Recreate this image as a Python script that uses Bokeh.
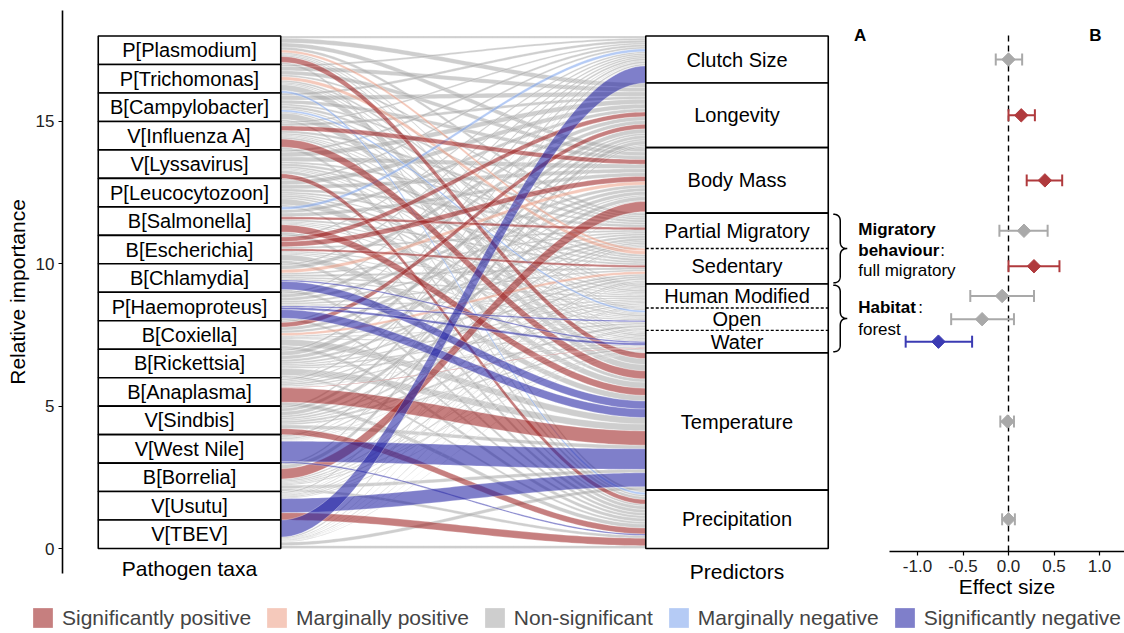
import numpy as np
from bokeh.plotting import figure
from bokeh.models import (ColumnDataSource, Range1d, LinearAxis, FixedTicker,
                          PrintfTickFormatter, Legend, LegendItem)
from bokeh.embed import file_html
from bokeh.resources import INLINE
from bokeh.core.properties import value

FONT = "Liberation Sans"

# ---------------- data ----------------
taxa = ["P[Plasmodium]", "P[Trichomonas]", "B[Campylobacter]", "V[Influenza A]",
        "V[Lyssavirus]", "P[Leucocytozoon]", "B[Salmonella]", "B[Escherichia]",
        "B[Chlamydia]", "P[Haemoproteus]", "B[Coxiella]", "B[Rickettsia]",
        "B[Anaplasma]", "V[Sindbis]", "V[West Nile]", "B[Borrelia]", "V[Usutu]", "V[TBEV]"]
predictors = ["Clutch Size", "Longevity", "Body Mass", "Partial Migratory", "Sedentary",
              "Human Modified", "Open", "Water", "Temperature", "Precipitation"]
predictor_group = ["clutch", "longevity", "bodymass", "migratory", "migratory",
                   "habitat", "habitat", "habitat", "temperature", "precipitation"]
axis_names = ["Pathogen taxa", "Predictors"]
importance_ticks = [0, 5, 10, 15]

# relative importance of each predictor for each pathogen (taxa order)
imp_clutch = [.08, .07, .09, .06, .08, .07, .10, .06, .06, .06, .06, .07, .03, .07, .02, .06, .01, .60]
imp_longevity = [.16, .15, .16, .10, .17, .16, .12, .16, .14, .13, .16, .16, .07, .12, .07, .14, .05, .05]
imp_bodymass = [.15, .14, .13, .16, .16, .14, .13, .18, .12, .11, .12, .13, .05, .14, .03, .36, .02, .03]
imp_partial = [.10, .07, .07, .09, .07, .10, .09, .07, .06, .07, .09, .09, .05, .07, .05, .05, .03, .02]
imp_sedentary = [.09, .12, .09, .06, .09, .07, .07, .08, .08, .06, .09, .07, .07, .07, .02, .05, .04, .03]
imp_human = [.05, .07, .05, .04, .07, .05, .04, .05, .06, .05, .05, .05, .05, .05, .02, .04, .03, .02]
imp_open = [.04, .05, .07, .04, .04, .07, .04, .04, .05, .05, .04, .06, .02, .08, .01, .04, .04, .01]
imp_water = [.05, .04, .05, .07, .04, .06, .04, .04, .05, .08, .04, .05, .02, .06, .01, .04, .03, .02]
imp_temperature = [.20, .21, .22, .28, .12, .21, .25, .20, .28, .30, .23, .24, .50, .13, .72, .12, .49, .12]
imp_precipitation = [.08, .08, .07, .10, .16, .07, .12, .12, .10, .09, .12, .08, .14, .21, .05, .10, .26, .10]

# significance: 2 sig. positive, 1 marg. positive, 0 n.s., -1 marg. negative, -2 sig. negative
sig_clutch = [0, 0, 0, 0, 0, 0, -1, 0, 0, 0, 0, 0, 0, 0, 0, 0, 0, -2]
sig_longevity = [0, 0, 0, 0, 0, 0, 0, 2, 0, 0, 2, 0, 0, 0, 0, 0, 0, 0]
sig_bodymass = [0, 0, 0, 2, 0, 0, 0, 2, 1, 0, 0, 0, 0, 0, 0, 2, 0, 0]
sig_partial = [0, 0, 0, 0, 0, 0, 2, 0, 0, 0, 0, 0, 0, 0, 0, 0, 0, 0]
sig_sedentary = [1, 1, 0, 0, 0, 0, 0, 2, 0, 0, 1, 0, 0, 0, 0, 0, 0, 0]
sig_human = [0, 0, 0, 0, 0, 0, 0, 0, 0, 0, 0, 0, 0, 0, 0, 0, 0, 0]
sig_open = [0, 0, -1, 0, 0, 0, 0, 0, 0, -2, 0, 0, 0, 0, 0, 0, 0, 0]
sig_water = [0, 0, 0, 0, 0, 0, 0, 0, -2, -2, 0, 0, 2, 0, 0, 0, 0, 0]
sig_temperature = [2, 0, 0, 2, 0, 0, 2, 0, -2, -2, 0, 0, 2, 0, -2, 0, -2, 0]
sig_precipitation = [0, -1, 0, 0, 2, 0, 0, 0, 0, 0, 0, 0, 0, 2, -2, 0, 2, 0]

sig_levels = [2, 1, 0, -1, -2]
sig_labels = ["Significantly positive", "Marginally positive", "Non-significant",
              "Marginally negative", "Significantly negative"]
sig_colors = ["#9d2323", "#eda289", "#aaaaaa", "#80a5ee", "#2323a3"]

# panel B: effect sizes per predictor (same order as predictors)
effect = [0.00, 0.14, 0.40, 0.17, 0.28, -0.07, -0.29, -0.77, -0.01, 0.00]
effect_lo = [-0.14, 0.00, 0.20, -0.10, 0.00, -0.42, -0.63, -1.13, -0.09, -0.07]
effect_hi = [0.15, 0.29, 0.59, 0.43, 0.56, 0.28, 0.06, -0.40, 0.06, 0.07]
effect_sig = ["ns", "pos", "pos", "ns", "pos", "ns", "ns", "neg", "ns", "ns"]
effect_ticks = [-1.0, -0.5, 0.0, 0.5, 1.0]
effect_colors = {"pos": "#b03a3d", "neg": "#3b3bb3", "ns": "#a9a9a9"}

importance = [imp_clutch, imp_longevity, imp_bodymass, imp_partial, imp_sedentary,
              imp_human, imp_open, imp_water, imp_temperature, imp_precipitation]
significance = [sig_clutch, sig_longevity, sig_bodymass, sig_partial, sig_sedentary,
                sig_human, sig_open, sig_water, sig_temperature, sig_precipitation]

# ---------------- layout constants (frame = whole canvas) ----------------
FIG_W, FIG_H = 1124, 633
PX_X = 547.5          # pixels per alluvial axis unit
PX_Y = 28.47          # pixels per importance unit
X1_PX, Y0_PX = 189.0, 548.0   # screen position of axis 1 and of importance 0
x_start = 1 - X1_PX / PX_X
x_end = x_start + FIG_W / PX_X
y_start = (Y0_PX - FIG_H) / PX_Y
y_end = y_start + FIG_H / PX_Y
PX_F, F0_PX = 91.0, 1008.0    # effect-size scale
f_start = -F0_PX / PX_F
f_end = f_start + FIG_W / PX_F

yaxis_x = 1 - (X1_PX - 62) / PX_X
yaxis_lo = (Y0_PX - 573) / PX_Y
yaxis_hi = (Y0_PX - 10) / PX_Y
faxis_y = (Y0_PX - 551) / PX_Y

p = figure(width=FIG_W, height=FIG_H, x_range=Range1d(x_start, x_end),
           y_range=Range1d(y_start, y_end), x_axis_location=None, y_axis_location=None,
           output_backend="svg", toolbar_location=None,
           min_border_left=0, min_border_right=0, min_border_top=0, min_border_bottom=0)
p.extra_x_ranges = {"forest": Range1d(f_start, f_end)}
p.xgrid.visible = False
p.ygrid.visible = False
p.outline_line_color = None
p.background_fill_color = "white"


def style_axis(ax):
    ax.axis_label_text_font = FONT
    ax.axis_label_text_font_size = "21px"
    ax.axis_label_text_font_style = "normal"
    ax.axis_label_text_color = "black"
    ax.major_label_text_font = FONT
    ax.major_label_text_font_size = "17px"
    ax.major_label_text_color = "#222222"
    ax.major_tick_out = 4
    ax.major_tick_in = 0
    ax.minor_tick_out = 0
    ax.minor_tick_in = 0
    ax.axis_line_width = 1.6
    ax.major_tick_line_width = 1.2


ya = LinearAxis(ticker=FixedTicker(ticks=importance_ticks), axis_label="Relative importance",
                fixed_location=yaxis_x, bounds=(yaxis_lo, yaxis_hi))
style_axis(ya)
ya.axis_label_standoff = 4
ya.major_label_standoff = 4
p.add_layout(ya, "left")

# ---------------- alluvial geometry ----------------
n_t, n_p = len(taxa), len(predictors)
W = 1 / 3
xl, xr = 1 + W / 2, 2 - W / 2
taxa_tot = [sum(importance[j][i] for j in range(n_p)) for i in range(n_t)]
pred_tot = [sum(importance[j]) for j in range(n_p)]
total = sum(taxa_tot)

taxa_top, acc = [], total
for h in taxa_tot:
    taxa_top.append(acc)
    acc -= h
pred_top, acc = [], total
for h in pred_tot:
    pred_top.append(acc)
    acc -= h

t = np.linspace(0, 1, 70)
s = t * t * (3 - 2 * t)
xc = xl + (xr - xl) * t
flows = {lvl: {"xs": [], "ys": []} for lvl in sig_levels}
lc = list(taxa_top)
rc = list(pred_top)
for i in range(n_t):
    for j in range(n_p):
        w = importance[j][i]
        if w <= 0:
            continue
        ly0, ry0 = lc[i], rc[j]
        ly1, ry1 = ly0 - w, ry0 - w
        lc[i], rc[j] = ly1, ry1
        top = ly0 + (ry0 - ly0) * s
        bot = ly1 + (ry1 - ly1) * s
        flows[significance[j][i]]["xs"].append(np.concatenate([xc, xc[::-1]]))
        flows[significance[j][i]]["ys"].append(np.concatenate([top, bot[::-1]]))

renderers = {}
for lvl in [0, 1, -1, 2, -2]:
    k = sig_levels.index(lvl)
    src = ColumnDataSource(dict(xs=flows[lvl]["xs"], ys=flows[lvl]["ys"]))
    renderers[lvl] = p.patches("xs", "ys", source=src, fill_color=sig_colors[k],
                               fill_alpha=0.58, line_color="white", line_width=0.4,
                               line_alpha=0.7)

# taxa boxes
p.quad(left=[1 - W / 2] * n_t, right=[1 + W / 2] * n_t, top=taxa_top,
       bottom=[tp - h for tp, h in zip(taxa_top, taxa_tot)],
       fill_color="white", line_color="black", line_width=1.6)
p.text(x=[1.0] * n_t, y=[tp - h / 2 for tp, h in zip(taxa_top, taxa_tot)], text=taxa,
       text_font=value(FONT), text_font_size="20px", text_align="center",
       text_baseline="middle", text_color="black")

# predictor boxes (grouped)
groups = []
for j, g in enumerate(predictor_group):
    if groups and groups[-1][0] == g:
        groups[-1][2] = pred_top[j] - pred_tot[j]
    else:
        groups.append([g, pred_top[j], pred_top[j] - pred_tot[j]])
p.quad(left=[2 - W / 2] * len(groups), right=[2 + W / 2] * len(groups),
       top=[g[1] for g in groups], bottom=[g[2] for g in groups],
       fill_color="white", line_color="black", line_width=1.6)
sep_y = [pred_top[j] - pred_tot[j] for j in range(n_p - 1)
         if predictor_group[j] == predictor_group[j + 1]]
p.segment(x0=[2 - W / 2] * len(sep_y), x1=[2 + W / 2] * len(sep_y), y0=sep_y, y1=sep_y,
          line_color="black", line_width=1.4, line_dash="3 2")
pred_mid = [tp - h / 2 for tp, h in zip(pred_top, pred_tot)]
p.text(x=[2.0] * n_p, y=pred_mid, text=predictors, text_font=value(FONT),
       text_font_size="20px", text_align="center", text_baseline="middle",
       text_color="black")

# axis names under the strata
p.text(x=[1.0, 2.0], y=[-0.70, -0.82], text=axis_names, text_font=value(FONT),
       text_font_size="21px", text_align="center", text_baseline="middle",
       text_color="black")


# braces and group annotations
def brace(y_top, y_bot, x0):
    H = (y_top - y_bot) * PX_Y
    wb, r = 14.0, min(7.0, H / 4)
    tt = np.linspace(0, 1, 20)

    def q(p0, c, p1):
        return [((1 - a) ** 2 * p0[0] + 2 * (1 - a) * a * c[0] + a * a * p1[0],
                 (1 - a) ** 2 * p0[1] + 2 * (1 - a) * a * c[1] + a * a * p1[1]) for a in tt]
    pts = []
    pts += q((0, 0), (wb / 2, 0), (wb / 2, r))
    pts += q((wb / 2, H / 2 - r), (wb / 2, H / 2), (wb, H / 2))
    pts += q((wb, H / 2), (wb / 2, H / 2), (wb / 2, H / 2 + r))
    pts += q((wb / 2, H - r), (wb / 2, H), (0, H))
    return ([x0 + u / PX_X for u, v in pts], [y_top - v / PX_Y for u, v in pts])


bx0 = 2 + W / 2 + 5 / PX_X
grp = {g[0]: g for g in groups}
bxs, bys = [], []
for name in ["migratory", "habitat"]:
    g = grp[name]
    xs_, ys_ = brace(g[1] - 0.04, g[2] + 0.04, bx0)
    bxs.append(xs_)
    bys.append(ys_)
p.multi_line(bxs, bys, line_color="black", line_width=1.5)

tx = 2 + W / 2 + 30 / PX_X
mig_mid = (grp["migratory"][1] + grp["migratory"][2]) / 2
hab_mid = (grp["habitat"][1] + grp["habitat"][2]) / 2
common = dict(text_font=value(FONT), text_font_size="17px", text_align="left",
              text_baseline="middle", text_color="black")
p.text(x=[tx, tx], y=[mig_mid, mig_mid], y_offset=[-19, 2],
       text=["Migratory", "behaviour"], text_font_style="bold", **common)
p.text(x=[tx], y=[mig_mid], x_offset=[82], y_offset=[2], text=[":"], **common)
p.text(x=[tx], y=[mig_mid], y_offset=[22], text=["full migratory"], **common)
p.text(x=[tx], y=[hab_mid], y_offset=[-11], text=["Habitat"], text_font_style="bold", **common)
p.text(x=[tx], y=[hab_mid], x_offset=[60], y_offset=[-11], text=[":"], **common)
p.text(x=[tx], y=[hab_mid], y_offset=[11], text=["forest"], **common)

# panel letters
p.text(x=[2 + W / 2 + 32 / PX_X], y=[18.02], text=["A"], text_font=value(FONT),
       text_font_size="17px", text_font_style="bold", text_align="center",
       text_baseline="middle", text_color="black")
p.text(x=[0.956], y=[18.02], text=["B"], x_range_name="forest", text_font=value(FONT),
       text_font_size="17px", text_font_style="bold", text_align="center",
       text_baseline="middle", text_color="black")

# ---------------- forest plot ----------------
p.segment(x0=[0], x1=[0], y0=[faxis_y], y1=[18.1], x_range_name="forest",
          line_color="black", line_width=1.4, line_dash="6 4")
fcol = [effect_colors[k] for k in effect_sig]
fsrc = ColumnDataSource(dict(y=pred_mid, e=effect, lo=effect_lo, hi=effect_hi, c=fcol,
                             yt=[m + 0.21 for m in pred_mid], yb=[m - 0.21 for m in pred_mid]))
p.segment(x0="lo", x1="hi", y0="y", y1="y", source=fsrc, x_range_name="forest",
          line_color="c", line_width=2)
p.segment(x0="lo", x1="lo", y0="yb", y1="yt", source=fsrc, x_range_name="forest",
          line_color="c", line_width=2)
p.segment(x0="hi", x1="hi", y0="yb", y1="yt", source=fsrc, x_range_name="forest",
          line_color="c", line_width=2)
p.scatter(x="e", y="y", source=fsrc, x_range_name="forest", marker="square",
          angle=0.785398, size=9.5, fill_color="c", line_color="c")

fax = LinearAxis(x_range_name="forest", ticker=FixedTicker(ticks=effect_ticks),
                 formatter=PrintfTickFormatter(format="%.1f"), axis_label="Effect size",
                 fixed_location=faxis_y, bounds=((889 - F0_PX) / PX_F, f_end))
style_axis(fax)
fax.axis_label_standoff = 0
fax.major_label_standoff = 4
p.add_layout(fax, "below")

# ---------------- legend ----------------
legend = Legend(items=[LegendItem(label=lab, renderers=[renderers[lvl]])
                       for lab, lvl in zip(sig_labels, sig_levels)],
                orientation="horizontal", location=(30, 3),
                label_text_font=FONT, label_text_font_size="21px",
                glyph_width=25, glyph_height=25, label_height=25, label_standoff=7,
                spacing=13, padding=0, margin=0, border_line_color=None,
                background_fill_alpha=0)
p.add_layout(legend)

open("out.html", "w").write(file_html(p, INLINE))
